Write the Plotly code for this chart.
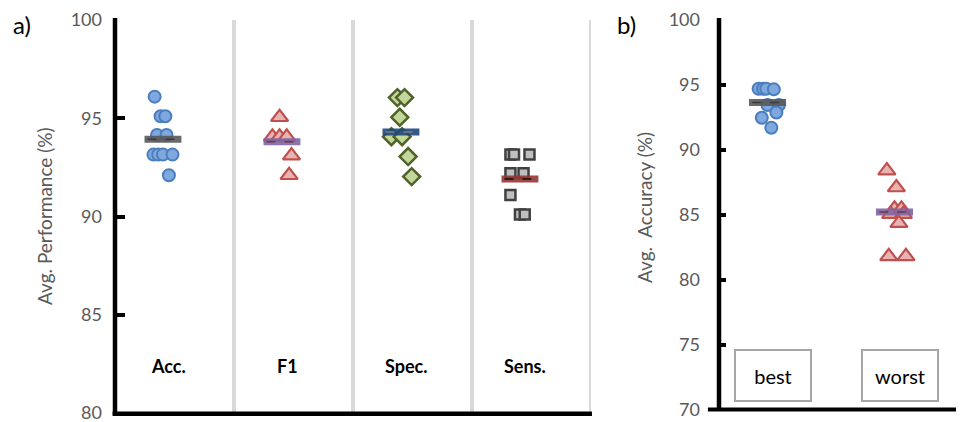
import plotly.graph_objects as go

# ---------------- data ----------------
cats_a = ["Acc.", "F1", "Spec.", "Sens."]
acc_vals = [96.1, 95.1, 95.1, 94.15, 94.15, 93.15, 93.15, 93.15, 93.15, 92.1]
acc_jit = [-0.07, -0.02, 0.02, -0.05, 0.03, -0.08, -0.04, 0.0, 0.08, 0.05]
f1_vals = [95.05, 94.05, 94.05, 94.05, 93.1, 92.1]
f1_jit = [-0.02, -0.08, -0.02, 0.04, 0.08, 0.06]
spec_vals = [96.05, 96.05, 95.05, 94.06, 94.06, 93.05, 92.03]
spec_jit = [-0.03, 0.03, -0.01, -0.08, 0.01, 0.06, 0.09]
sens_vals = [93.15, 93.15, 93.15, 92.2, 92.2, 91.1, 90.1, 90.1]
sens_jit = [-0.08, -0.05, 0.08, -0.08, 0.03, -0.08, 0.0, 0.04]
means_a = [93.93, 93.81, 94.3, 91.91]

cats_b = ["best", "worst"]
best_vals = [94.7, 94.7, 94.7, 94.66, 93.45, 93.45, 92.88, 92.47, 91.7]
best_jit = [-0.07, -0.035, -0.01, 0.05, 0.0, 0.09, 0.07, -0.045, 0.03]
worst_vals = [88.4, 87.1, 85.45, 85.45, 85.05, 85.05, 84.35, 81.8, 81.8]
worst_jit = [-0.06, 0.015, 0.0, 0.055, -0.03, 0.07, 0.035, -0.045, 0.09]
means_b = [93.65, 85.22]

yticks_a = [80, 85, 90, 95, 100]
yticks_b = [70, 75, 80, 85, 90, 95, 100]

# ---------------- layout helpers ----------------
FONT = "Lato"
OFF = 8                       # page body margin
FW, FH = 964 - OFF, 422 - OFF  # figure size so it fills the window


def px(x):
    return (x - OFF) / FW


def py(y):
    return 1 - (y - OFF) / FH


styles_a = [
    dict(symbol="circle", size=12, color="#7FA8DE", line=dict(color="#4A7EBF", width=2)),
    dict(symbol="triangle-up", size=15, color="#E8B4B3", line=dict(color="#C0504D", width=2.2)),
    dict(symbol="diamond", size=13, color="#C3D69B", line=dict(color="#4F6228", width=2.5)),
    dict(symbol="square", size=10, color="#BFBFBF", line=dict(color="#404040", width=2.5)),
]
mean_cols_a = [("#595959", "#3a3a3a"), ("#8064A2", "#6b3a3a"), ("#1F497D", "#808080"), ("#953735", "#111111")]
styles_b = [styles_a[0], styles_a[1]]
mean_cols_b = [("#595959", "#3a3a3a"), ("#8064A2", "#6b3a3a")]

fig = go.Figure()

groups_a = [(acc_vals, acc_jit), (f1_vals, f1_jit), (spec_vals, spec_jit), (sens_vals, sens_jit)]
for i, (vals, jit) in enumerate(groups_a):
    fig.add_trace(go.Scatter(x=[i + j for j in jit], y=vals, mode="markers",
                             marker=styles_a[i], xaxis="x", yaxis="y", cliponaxis=False))
for i, m in enumerate(means_a):
    fig.add_trace(go.Scatter(x=[i - 0.155, i + 0.155], y=[m, m], mode="lines", opacity=0.9,
                             line=dict(color=mean_cols_a[i][0], width=7), xaxis="x", yaxis="y"))
    fig.add_trace(go.Scatter(x=[i - 0.13, i + 0.13], y=[m, m], mode="lines",
                             line=dict(color=mean_cols_a[i][1], width=1.5, dash="dash"), xaxis="x", yaxis="y"))

groups_b = [(best_vals, best_jit), (worst_vals, worst_jit)]
for i, (vals, jit) in enumerate(groups_b):
    fig.add_trace(go.Scatter(x=[i + j for j in jit], y=vals, mode="markers",
                             marker=styles_b[i], xaxis="x2", yaxis="y2", cliponaxis=False))
for i, m in enumerate(means_b):
    fig.add_trace(go.Scatter(x=[i - 0.146, i + 0.146], y=[m, m], mode="lines", opacity=0.9,
                             line=dict(color=mean_cols_b[i][0], width=7), xaxis="x2", yaxis="y2"))
    fig.add_trace(go.Scatter(x=[i - 0.12, i + 0.12], y=[m, m], mode="lines",
                             line=dict(color=mean_cols_b[i][1], width=1.5, dash="dash"), xaxis="x2", yaxis="y2"))

tickfont = dict(family=FONT, size=18, color="#595959")
common_x = dict(showgrid=False, zeroline=False, showticklabels=False, ticks="", showline=False,
                fixedrange=True, automargin=False)
common_y = dict(showgrid=False, zeroline=False, showline=False, ticks="inside", tickwidth=4,
                tickcolor="black", tickfont=tickfont, automargin=False, ticklabeloverflow="allow")

shapes = []
for i in range(len(cats_a)):
    shapes.append(dict(type="line", xref="x", yref="y domain", x0=i + 0.597, x1=i + 0.597,
                       y0=-0.005, y1=1, line=dict(color="#D9D9D9", width=4), layer="below"))
shapes += [
    dict(type="line", xref="x domain", yref="y domain", x0=0, x1=0, y0=-0.006, y1=1.005,
         line=dict(color="black", width=4.5)),
    dict(type="line", xref="x domain", yref="y domain", x0=-0.005, x1=1.002, y0=-0.002, y1=-0.002,
         line=dict(color="black", width=4.5)),
    dict(type="line", xref="x2 domain", yref="y2 domain", x0=0, x1=0, y0=-0.003, y1=1.005,
         line=dict(color="black", width=4.5)),
    dict(type="line", xref="x2 domain", yref="y2 domain", x0=-0.046, x1=1.0, y0=0, y1=0,
         line=dict(color="black", width=4)),
]

annotations = []
for i, c in enumerate(cats_a):
    annotations.append(dict(x=i + 0.045, y=82.39, xref="x", yref="y", text="<b>%s</b>" % c,
                            xanchor="center", yanchor="middle",
                            showarrow=False, font=dict(family=FONT, size=18, color="black")))
for i, c in enumerate(cats_b):
    annotations.append(dict(x=i + 0.04, y=72.6, xref="x2", yref="y2", text=c, showarrow=False,
                            xanchor="center", yanchor="middle",
                            font=dict(family=FONT, size=20, color="black"), bgcolor="white",
                            bordercolor="#A6A6A6", borderwidth=2, borderpad=0, width=74, height=49))
annotations += [
    dict(x=px(22), y=py(25), xref="paper", yref="paper", text="a)", showarrow=False,
         xanchor="center", yanchor="middle", font=dict(family=FONT, size=24, color="black")),
    dict(x=px(626), y=py(25), xref="paper", yref="paper", text="b)", showarrow=False,
         xanchor="center", yanchor="middle", font=dict(family=FONT, size=24, color="black")),
    dict(x=px(44), y=py(216), xref="paper", yref="paper", text="Avg. Performance (%)",
         xanchor="center", yanchor="middle",
         textangle=-90, showarrow=False, font=dict(family=FONT, size=19, color="#595959")),
    dict(x=px(645), y=py(208), xref="paper", yref="paper", text="Avg.\u00a0 Accuracy (%)",
         xanchor="center", yanchor="middle",
         textangle=-90, showarrow=False, font=dict(family=FONT, size=19, color="#595959")),
]

fig.update_layout(
    width=FW, height=FH, margin=dict(l=0, r=0, t=0, b=0, pad=0, autoexpand=False),
    paper_bgcolor="white", plot_bgcolor="white", showlegend=False,
    font=dict(family=FONT),
    xaxis=dict(domain=[px(115), px(591)], range=[-0.403, 3.597], **common_x),
    yaxis=dict(domain=[py(413), py(20)], range=[80, 100], tickvals=yticks_a, ticklen=10,
               ticklabelstandoff=12, **common_y),
    xaxis2=dict(domain=[px(719), px(960)], range=[-0.382, 1.516], **common_x),
    yaxis2=dict(domain=[py(409.5), py(20)], range=[70, 100], tickvals=yticks_b, ticklen=7,
                ticklabelstandoff=18, anchor="x2", **common_y),
    shapes=shapes, annotations=annotations,
)

fig.write_html("out.html")
